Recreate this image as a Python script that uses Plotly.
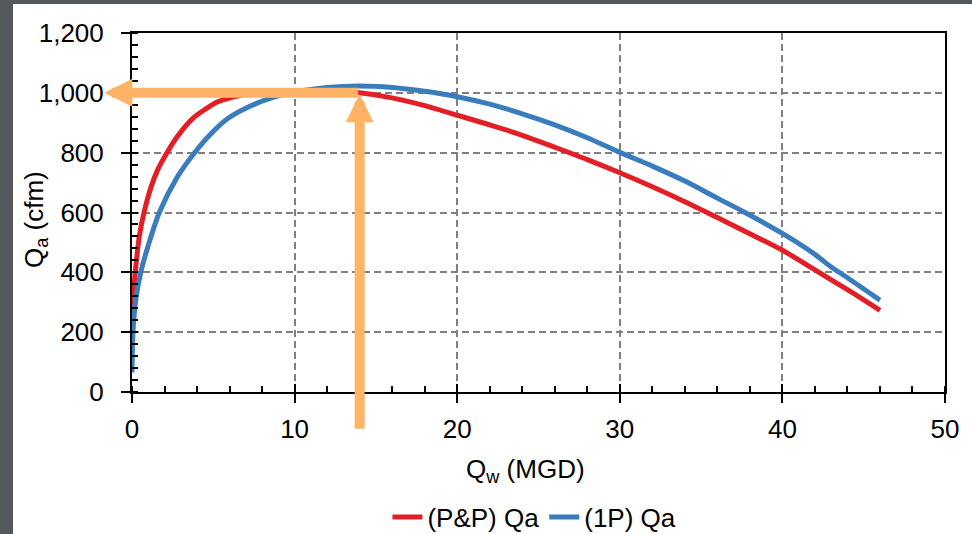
import plotly.graph_objects as go

# ---- data ----
qw_pp = [0, 0.05, 0.2, 0.45, 0.74, 1.2, 1.6, 2.15, 2.8, 3.73, 4.5, 5.27, 6.7, 8, 10, 12, 14, 16, 18, 20, 22, 24, 26, 28, 30, 32, 34, 36, 38, 40, 42, 44, 46]
qa_pp = [240, 300, 400, 520, 600, 690, 745, 800, 855, 914, 945, 970, 992, 1001, 1006, 1007, 1000, 983, 957, 925, 893, 858, 818, 777, 733, 686, 636, 583, 529, 474, 408, 342, 273]

qw_1p = [0, 0.06, 0.23, 0.54, 1.0, 1.68, 2.8, 3.85, 4.8, 5.89, 7.62, 9, 10, 12, 14, 16, 18, 20, 22, 24, 26, 28, 30, 32, 34, 36, 37.7, 40, 42, 43, 44, 46]
qa_1p = [65, 200, 307, 400, 490, 600, 720, 800, 860, 914, 964, 990, 1003, 1018, 1023, 1018, 1005, 987, 962, 930, 893, 850, 801, 755, 705, 648, 600, 530, 460, 418, 382, 307]

series_names = ["(P&P) Qa", "(1P) Qa"]
x_title = "Q<sub>w</sub> (MGD)"
y_title = "Q<sub>a</sub> (cfm)"
x_range = [0, 50]
y_range = [0, 1200]
design_qw = 14      # MGD, vertical arrow
design_qa = 1000    # cfm, horizontal arrow
arrow_x_end = -1.7  # arrow tip left of axis
arrow_y_start = -128

FONT = "Liberation Sans, Arial, sans-serif"
FS = 26
RED = "#E41E26"
BLUE = "#3A7DBD"
ORANGE = "#FFB366"
GRID = "#808080"

W, H = 972, 534
ML, MR, MT, MB = 132, 27, 33, 142
PW, PH = W - ML - MR, H - MT - MB

fig = go.Figure()
fig.add_trace(go.Scatter(x=qw_pp, y=qa_pp, mode="lines", name=series_names[0],
                         line=dict(color=RED, width=5, shape="spline", smoothing=0.8)))
fig.add_trace(go.Scatter(x=qw_1p, y=qa_1p, mode="lines", name=series_names[1],
                         line=dict(color=BLUE, width=5, shape="spline", smoothing=0.8)))

axis_common = dict(showline=True, linecolor="black", linewidth=2, mirror=True,
                   ticks="outside", ticklen=9, tickwidth=2, tickcolor="black",
                   showgrid=True, gridcolor=GRID, gridwidth=2, griddash="7px,4px",
                   zeroline=False, automargin=False,
                   tickfont=dict(family=FONT, size=FS, color="black"))

fig.update_layout(
    width=W, height=H,
    margin=dict(l=ML, r=MR, t=MT, b=MB, autoexpand=False),
    paper_bgcolor="white", plot_bgcolor="white",
    font=dict(family=FONT, size=FS, color="black"),
    xaxis=dict(range=x_range, dtick=10, ticklabelstandoff=4, **axis_common,
               minor=dict(ticks="inside", dtick=2, ticklen=6, tickwidth=2, tickcolor="black", showgrid=False)),
    yaxis=dict(range=y_range, dtick=200, tickformat=",", ticklabelstandoff=12, **axis_common,
               minor=dict(ticks="inside", dtick=40, ticklen=6, tickwidth=2, tickcolor="black", showgrid=False)),
    xaxis2=dict(range=x_range, dtick=10, overlaying="x", anchor="y", side="bottom",
                ticks="inside", ticklen=8, tickwidth=2, tickcolor="black", automargin=False,
                showticklabels=False, showgrid=False, showline=False, zeroline=False),
    yaxis2=dict(range=y_range, dtick=200, overlaying="y", anchor="x", side="left",
                ticks="inside", ticklen=6, tickwidth=2, tickcolor="black", automargin=False,
                showticklabels=False, showgrid=False, showline=False, zeroline=False),
    legend=dict(orientation="h", x=0.495, xanchor="center", y=-0.283, yanchor="top",
                font=dict(family=FONT, size=FS), bgcolor="rgba(0,0,0,0)"),
    showlegend=True,
)

# dummy trace so overlay axes render
fig.add_trace(go.Scatter(x=[], y=[], xaxis="x2", yaxis="y2", showlegend=False, hoverinfo="skip"))

# axis titles
fig.add_annotation(text=x_title, xref="paper", yref="paper", x=(525 - ML) / PW, y=-(470 - (H - MB)) / PH,
                   xanchor="center", yanchor="middle", showarrow=False, font=dict(family=FONT, size=FS))
fig.add_annotation(text=y_title, xref="paper", yref="paper", x=-(ML - 35) / PW, y=((H - MB) - 220) / PH,
                   xanchor="center", yanchor="middle", textangle=-90, showarrow=False, font=dict(family=FONT, size=FS))

# orange arrows
fig.add_annotation(x=arrow_x_end, y=design_qa, ax=design_qw, ay=design_qa,
                   xref="x", yref="y", axref="x", ayref="y", text="", showarrow=True,
                   arrowhead=2, arrowsize=0.56, arrowwidth=10, arrowcolor=ORANGE)
fig.add_annotation(x=design_qw, y=design_qa - 5, ax=design_qw, ay=arrow_y_start,
                   xref="x", yref="y", axref="x", ayref="y", text="", showarrow=True,
                   arrowhead=2, arrowsize=0.56, arrowwidth=10, arrowcolor=ORANGE)

# dark frame strips (left and top edges of the slide)
fig.add_shape(type="rect", xref="paper", yref="paper", x0=-ML / PW, x1=-(ML - 13) / PW, y0=-MB / PH, y1=1 + MT / PH,
              fillcolor="#54585C", line=dict(width=0), layer="above")
fig.add_shape(type="rect", xref="paper", yref="paper", x0=-ML / PW, x1=1 + MR / PW, y0=1 + (MT - 4) / PH, y1=1 + MT / PH,
              fillcolor="#54585C", line=dict(width=0), layer="above")

fig.write_html("out.html", config={"displayModeBar": False},
               post_script="document.body.style.margin='0';document.body.style.overflow='hidden';")
